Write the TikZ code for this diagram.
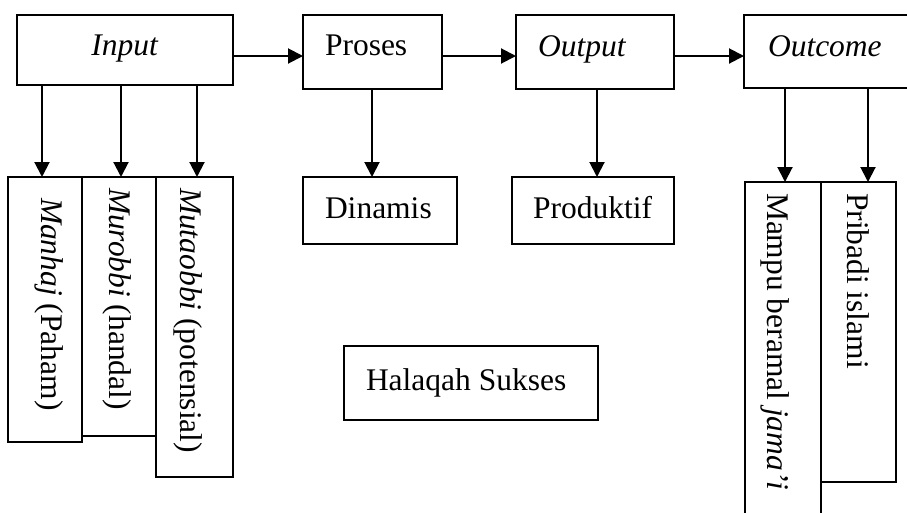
\documentclass[tikz,border=0pt]{standalone}
\usepackage{fontspec}
\setmainfont{Liberation Serif}
\usetikzlibrary{arrows.meta}
\tikzset{
  box/.style={draw, line width=1.6pt, rectangle, inner sep=0pt, outer sep=0pt, anchor=north west},
  openbox/.style={rectangle, inner sep=0pt, outer sep=0pt, anchor=north west},
  lbl/.style={font=\fontsize{31.5}{36}\selectfont, inner sep=0pt, outer sep=0pt, anchor=base west},
  vlbl/.style={lbl, rotate=-90},
  arr/.style={line width=2pt, -{Triangle[length=15pt,width=15pt]}},
}
\begin{document}
\begin{tikzpicture}[x=1pt,y=-1pt]
\useasboundingbox (0,0) rectangle (907,512);
% boxes
\node[box, minimum width=216pt, minimum height=70pt] (input) at (17,15) {};
\node[box, minimum width=139pt, minimum height=74pt] (proses) at (303,15) {};
\node[box, minimum width=158pt, minimum height=74pt] (output) at (516,15) {};
\node[openbox, minimum width=170pt, minimum height=73pt] (outcome) at (744,15) {};
\draw[line width=1.6pt] (outcome.north east) -- (outcome.north west) -- (outcome.south west) -- (outcome.south east);
\node[box, minimum width=74pt, minimum height=265pt] (manhaj) at (8,177) {};
\node[box, minimum width=74pt, minimum height=259pt] (murobbi) at (82,177) {};
\node[box, minimum width=77pt, minimum height=300pt] (mutaobbi) at (156,177) {};
\node[box, minimum width=154pt, minimum height=67pt] (dinamis) at (303,177) {};
\node[box, minimum width=162pt, minimum height=67pt] (produktif) at (512,177) {};
\node[box, minimum width=254pt, minimum height=74pt] (halaqah) at (344,346) {};
\node[openbox, minimum width=76pt, minimum height=340pt] (mampu) at (745,182) {};
\draw[line width=1.6pt] (mampu.south west) -- (mampu.north west) -- (mampu.north east) -- (mampu.south east);
\node[box, minimum width=75pt, minimum height=300pt] (pribadi) at (821,182) {};
% labels
\node[lbl, anchor=base] (tinput) at (125,55) {\textit{Input}};
\node[lbl] (tproses) at (325,55) {Proses};
\node[lbl] (toutput) at (538,56) {\textit{Output}};
\node[lbl] (toutcome) at (768,56) {\textit{Outcome}};
\node[lbl] (tdinamis) at (325,218) {Dinamis};
\node[lbl] (tproduktif) at (533,218) {Produktif};
\node[lbl] (thalaqah) at (366,390) {Halaqah Sukses};
\node[vlbl] (tmanhaj) at (41,198) {\textit{Manhaj} (Paham)};
\node[vlbl] (tmurobbi) at (109,188) {\textit{Murobbi} (handal)};
\node[vlbl] (tmutaobbi) at (180,188) {\textit{Mutaobbi} (potensial)};
\node[vlbl] (tmampu) at (767,193) {Mampu beramal \textit{jama’i}};
\node[vlbl] (tpribadi) at (847,193) {Pribadi islami};
% horizontal arrows
\draw[arr] ([yshift=-41pt]input.north east) -- ([yshift=-41pt]input.north east -| proses.west);
\draw[arr] ([yshift=-41pt]proses.north east) -- ([yshift=-41pt]proses.north east -| output.west);
\draw[arr] ([yshift=-41pt]output.north east) -- ([yshift=-41pt]output.north east -| outcome.west);
% vertical arrows
\draw[arr] ([xshift=25pt]input.south west) -- ([xshift=25pt]input.south west |- manhaj.north);
\draw[arr] ([xshift=104pt]input.south west) -- ([xshift=104pt]input.south west |- murobbi.north);
\draw[arr] ([xshift=180pt]input.south west) -- ([xshift=180pt]input.south west |- mutaobbi.north);
\draw[arr] ([xshift=69pt]proses.south west) -- ([xshift=69pt]proses.south west |- dinamis.north);
\draw[arr] ([xshift=81pt]output.south west) -- ([xshift=81pt]output.south west |- produktif.north);
\draw[arr] ([xshift=41pt]outcome.south west) -- ([xshift=41pt]outcome.south west |- mampu.north);
\draw[arr] ([xshift=124pt]outcome.south west) -- ([xshift=124pt]outcome.south west |- pribadi.north);
\end{tikzpicture}
\end{document}
